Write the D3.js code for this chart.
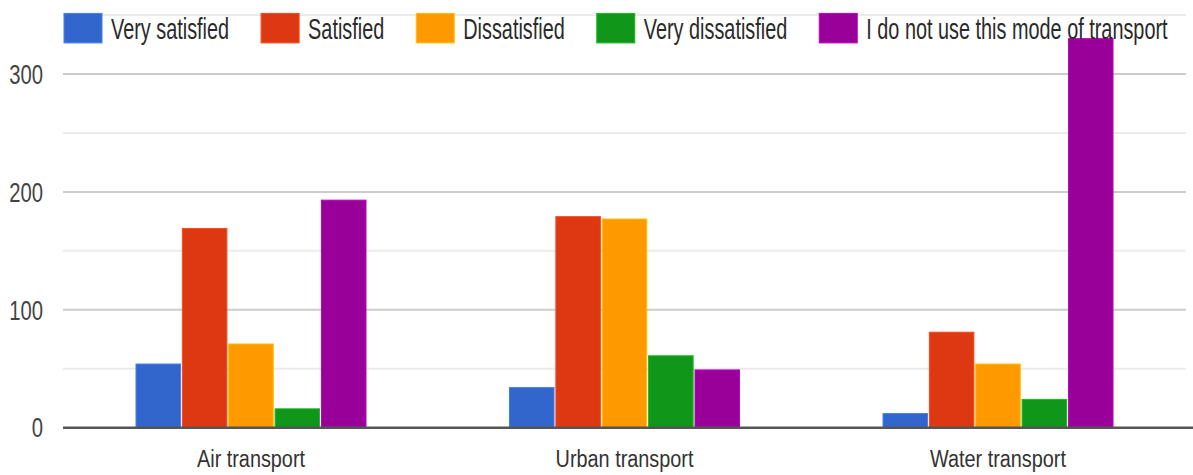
<!DOCTYPE html>
<html>
<head>
<meta charset="utf-8">
<script src="https://cdn.jsdelivr.net/npm/d3@7/dist/d3.min.js"></script>
<style>
  html, body { margin: 0; padding: 0; background: #fff; }
  svg { display: block; font-family: "Liberation Sans", Arial, sans-serif; }
</style>
</head>
<body>
<svg id="chart" width="1193" height="475"></svg>
<script>
const categories = ["Air transport", "Urban transport", "Water transport"];
const seriesNames = ["Very satisfied", "Satisfied", "Dissatisfied", "Very dissatisfied", "I do not use this mode of transport"];
const verySatisfied = [54, 34, 12];
const satisfied = [169, 179, 81];
const dissatisfied = [71, 177, 54];
const veryDissatisfied = [16, 61, 24];
const notUsed = [193, 49, 330];
const seriesValues = [verySatisfied, satisfied, dissatisfied, veryDissatisfied, notUsed];
const colors = ["#3366cc", "#dc3912", "#ff9900", "#109618", "#990099"];
const yTicks = [0, 100, 200, 300];
const gridTicks = [50, 100, 150, 200, 250, 300, 350];

const svg = d3.select("#chart");

const y = d3.scaleLinear().domain([0, 300]).range([427.7, 74]);
const x0 = d3.scaleBand().domain(categories).range([64.25, 1184.75])
  .paddingInner(0.3842).paddingOuter(0.1921);
const x1 = d3.scaleBand().domain(seriesNames).range([0, x0.bandwidth()]).paddingInner(0.04);

// gridlines
svg.append("g").selectAll("line").data(gridTicks).join("line")
  .attr("x1", 63).attr("x2", 1186)
  .attr("y1", d => y(d)).attr("y2", d => y(d))
  .attr("stroke", d => d % 100 === 0 ? "#cccccc" : "#ebebeb")
  .attr("stroke-width", 2);

// y tick labels
const sy = 0.75;
svg.append("g").selectAll("text").data(yTicks).join("text")
  .attr("transform", d => `translate(43,${y(d)}) scale(${sy},1)`)
  .attr("text-anchor", "end")
  .attr("dy", "0.36em")
  .attr("font-size", 27)
  .attr("fill", "#444")
  .text(d => d);

// bars
const rows = [];
categories.forEach((c, ci) => {
  seriesNames.forEach((s, si) => {
    rows.push({ cat: c, series: s, value: seriesValues[si][ci], color: colors[si] });
  });
});
svg.append("g").selectAll("rect").data(rows).join("rect")
  .attr("x", d => x0(d.cat) + x1(d.series))
  .attr("y", d => y(d.value))
  .attr("width", x1.bandwidth())
  .attr("height", d => y(0) - y(d.value))
  .attr("fill", d => d.color)
  .attr("stroke", d => d3.color(d.color).brighter(0.6))
  .attr("stroke-width", 1);

// baseline
svg.append("line")
  .attr("x1", 63).attr("x2", 1193)
  .attr("y1", y(0)).attr("y2", y(0))
  .attr("stroke", "#555").attr("stroke-width", 2.5);

// x labels
const sx = 0.81;
svg.append("g").selectAll("text").data(categories).join("text")
  .attr("transform", d => `translate(${x0(d) + x0.bandwidth() / 2},466.7) scale(${sx},1)`)
  .attr("text-anchor", "middle")
  .attr("font-size", 24.5)
  .attr("fill", "#333")
  .text(d => d);

// legend
const sl = 0.685;
const legend = svg.append("g");
let lx = 64;
seriesNames.forEach((s, i) => {
  const g = legend.append("g");
  g.append("rect").attr("x", lx).attr("y", 13.4).attr("width", 38).attr("height", 29.5)
    .attr("fill", colors[i]).attr("stroke", d3.color(colors[i]).brighter(0.6)).attr("stroke-width", 1);
  const t = g.append("text")
    .attr("transform", `translate(${lx + 47},39) scale(${sl},1)`)
    .attr("font-size", 29)
    .attr("fill", "#2a2a2a")
    .text(s);
  const w = t.node().getComputedTextLength() * sl;
  lx = lx + 47 + w + 32;
});
</script>
</body>
</html>
